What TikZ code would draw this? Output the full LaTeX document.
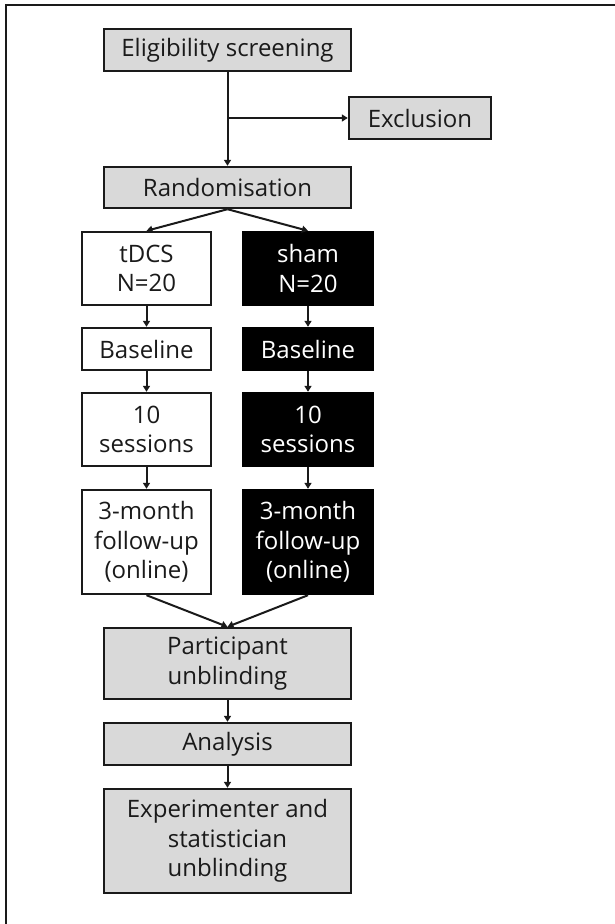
\documentclass[tikz,border=0pt]{standalone}
\usepackage{fontspec}
\setmainfont{Open Sans}
\usetikzlibrary{arrows.meta}
\definecolor{boxgray}{HTML}{D9D9D9}
\definecolor{ink}{HTML}{1A1A1A}
\begin{document}
\begin{tikzpicture}[x=1pt,y=-1pt,
  base/.style={draw=ink,line width=2.4pt,inner sep=0pt,align=center,
    font=\fontsize{24}{29.5}\selectfont},
  graybox/.style={base,fill=boxgray,text=ink},
  whitebox/.style={base,fill=white,text=ink},
  blackbox/.style={base,fill=black,draw=black,text=white},
  arr/.style={draw=ink,line width=2pt,-{Triangle[length=6pt,width=7pt]}}
]
\useasboundingbox (0,0) rectangle (615,924);
\draw[line width=2pt,ink] (615,5) -- (6,5) -- (6,924);

\node[graybox,minimum width=247pt,minimum height=42pt] (elig) at (227.5,50) {Eligibility screening};
\node[graybox,minimum width=142pt,minimum height=42pt] (excl) at (420,118) {Exclusion};
\node[graybox,minimum width=247pt,minimum height=41pt] (rand) at (227.5,187.5) {Randomisation};

\node[whitebox,minimum width=129pt,minimum height=73pt] (tdcs) at (146.5,268.5) {tDCS\\N=20};
\node[blackbox,minimum width=130pt,minimum height=73pt] (sham) at (308,268.5) {sham\\N=20};
\node[whitebox,minimum width=129pt,minimum height=42pt] (base1) at (146.5,349) {Baseline};
\node[blackbox,minimum width=130pt,minimum height=42pt] (base2) at (308,349) {Baseline};
\node[whitebox,minimum width=129pt,minimum height=73pt] (sess1) at (146.5,429.5) {10\\sessions};
\node[blackbox,minimum width=130pt,minimum height=73pt] (sess2) at (308,429.5) {10\\sessions};
\node[whitebox,minimum width=129pt,minimum height=104pt] (fu1) at (146.5,542) {3-month\\follow-up\\(online)};
\node[blackbox,minimum width=130pt,minimum height=104pt] (fu2) at (308,542) {3-month\\follow-up\\(online)};

\node[graybox,minimum width=247pt,minimum height=71pt] (part) at (227.5,663.5) {Participant\\unblinding};
\node[graybox,minimum width=247pt,minimum height=42pt] (anal) at (227.5,744) {Analysis};
\node[graybox,minimum width=247pt,minimum height=104pt] (expt) at (227.5,841) {Experimenter and\\statistician\\unblinding};

\coordinate (junc) at (227.5,118);
\draw[arr] (elig.south) -- (rand.north);
\draw[arr] (junc) -- (excl.west);
\draw[arr] (rand.south) -- (tdcs.north);
\draw[arr] (rand.south) -- (sham.north);
\draw[arr] (tdcs) -- (base1);
\draw[arr] (sham) -- (base2);
\draw[arr] (base1) -- (sess1);
\draw[arr] (base2) -- (sess2);
\draw[arr] (sess1) -- (fu1);
\draw[arr] (sess2) -- (fu2);
\draw[arr] (fu1.south) -- (part.north);
\draw[arr] (fu2.south) -- (part.north);
\draw[arr] (part) -- (anal);
\draw[arr] (anal) -- (expt);
\end{tikzpicture}
\end{document}
